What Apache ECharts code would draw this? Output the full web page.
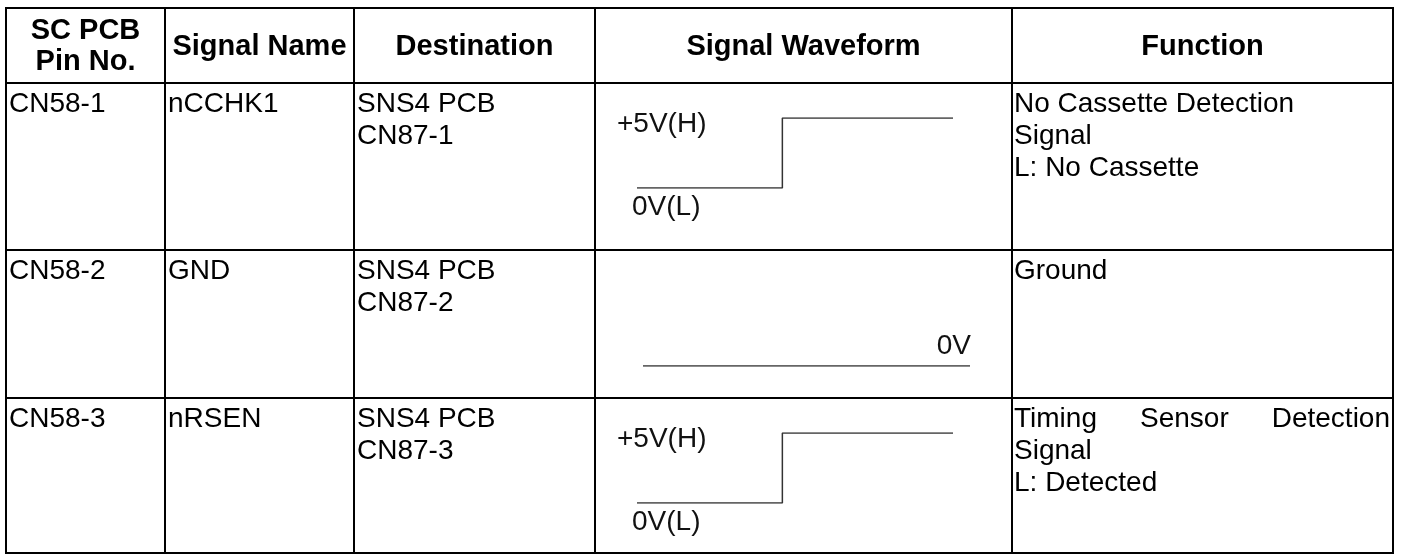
<!DOCTYPE html>
<html>
<head>
<meta charset="utf-8">
<script src="https://cdn.jsdelivr.net/npm/echarts@6/dist/echarts.min.js"></script>
<style>
html,body{margin:0;padding:0;background:#fff;}
#chart{width:1401px;height:554px;}
</style>
</head>
<body>
<div id="chart"></div>
<script>
// ---- data ----
const headers = ["SC PCB\nPin No.", "Signal Name", "Destination", "Signal Waveform", "Function"];
const pins = ["CN58-1", "CN58-2", "CN58-3"];
const signals = ["nCCHK1", "GND", "nRSEN"];
const destinations = ["SNS4 PCB\nCN87-1", "SNS4 PCB\nCN87-2", "SNS4 PCB\nCN87-3"];
const functions = [
  ["No Cassette Detection", "Signal", "L: No Cassette"],
  ["Ground"],
  ["Timing Sensor Detection", "Signal", "L: Detected"]
];
const justifyFirstLine = [false, false, true];
// waveforms: [time fraction, volts]
const wave1 = [[0, 0], [0.46, 0], [0.46, 5], [1, 5]];
const wave2 = [[0, 0], [1, 0]];
const wave3 = [[0, 0], [0.46, 0], [0.46, 5], [1, 5]];
const waveLabels = [["+5V(H)", "0V(L)"], ["0V"], ["+5V(H)", "0V(L)"]];

// ---- layout ----
const colEdges = [6, 165, 354, 595, 1012, 1393];
const rowEdges = [8, 83, 250, 398, 553];
const FONT = "'Liberation Sans', Arial, Helvetica, sans-serif";
const FS = 28;
const LH = 32;

const chart = echarts.init(document.getElementById('chart'), null, {renderer: 'canvas'});
const g = [];

// borders
const lineStyle = {stroke: '#000', lineWidth: 2};
colEdges.forEach(x => g.push({type: 'line', shape: {x1: x, y1: rowEdges[0] - 1, x2: x, y2: rowEdges[rowEdges.length - 1] + 1}, style: lineStyle, z: 10}));
rowEdges.forEach(y => g.push({type: 'line', shape: {x1: colEdges[0] - 1, y1: y, x2: colEdges[colEdges.length - 1] + 1, y2: y}, style: lineStyle, z: 10}));

function txt(text, x, y, opts) {
  g.push({type: 'text', x: x, y: y, z: 20, style: Object.assign({
    text: text, fontFamily: FONT, fontSize: FS, fill: '#000',
    align: 'left', verticalAlign: 'top', lineHeight: LH
  }, opts || {})});
}

// header
headers.forEach((h, i) => {
  const cx = (colEdges[i] + colEdges[i + 1]) / 2;
  const cy = (rowEdges[0] + rowEdges[1]) / 2 + 1;
  txt(h, cx, cy, {align: 'center', verticalAlign: 'middle', fontWeight: 'bold', fontSize: 29, lineHeight: 31});
});

const canvas = document.createElement('canvas');
const ctx = canvas.getContext('2d');
ctx.font = FS + 'px ' + FONT;

for (let r = 0; r < 3; r++) {
  const top = rowEdges[r + 1] + 5;
  txt(pins[r], colEdges[0] + 3, top);
  txt(signals[r], colEdges[1] + 3, top);
  txt(destinations[r], colEdges[2] + 3, top);
  const lines = functions[r];
  const fl = colEdges[4] + 2, fr = colEdges[5] - 3;
  lines.forEach((ln, k) => {
    const y = top + k * LH;
    if (k === 0 && justifyFirstLine[r]) {
      const words = ln.split(' ');
      const widths = words.map(w => ctx.measureText(w).width);
      const gap = (fr - fl - widths.reduce((a, b) => a + b, 0)) / (words.length - 1);
      let x = fl;
      words.forEach((w, j) => { txt(w, x, y); x += widths[j] + gap; });
    } else {
      txt(ln, fl, y);
    }
  });
}

// waveform grids
const waves = [wave1, wave2, wave3];
const grids = [
  {left: 637, top: rowEdges[1] + 35, width: 316, height: 70},
  {left: 643, top: rowEdges[2] + 51, width: 327, height: 65},
  {left: 637, top: rowEdges[3] + 35, width: 316, height: 70}
];
const xAxes = [], yAxes = [], series = [];
grids.forEach((gr, i) => {
  xAxes.push({gridIndex: i, type: 'value', min: 0, max: 1, show: false});
  yAxes.push({gridIndex: i, type: 'value', min: 0, max: 5, show: false});
  series.push({type: 'line', xAxisIndex: i, yAxisIndex: i, data: waves[i], symbol: 'none',
    lineStyle: {color: '#333', width: 1.5}, silent: true, animation: false});
});

// wave labels
[0, 2].forEach(i => {
  const gr = grids[i];
  txt(waveLabels[i][0], 617, gr.top + 6, {verticalAlign: 'middle', fill: '#111'});
  txt(waveLabels[i][1], 632, gr.top + gr.height + 19, {verticalAlign: 'middle', fill: '#111'});
});
txt(waveLabels[1][0], grids[1].left + grids[1].width + 1, grids[1].top + grids[1].height - 20, {align: 'right', verticalAlign: 'middle', fill: '#111'});

chart.setOption({
  animation: false,
  backgroundColor: '#fff',
  grid: grids,
  xAxis: xAxes,
  yAxis: yAxes,
  series: series,
  graphic: g
});
</script>
</body>
</html>
